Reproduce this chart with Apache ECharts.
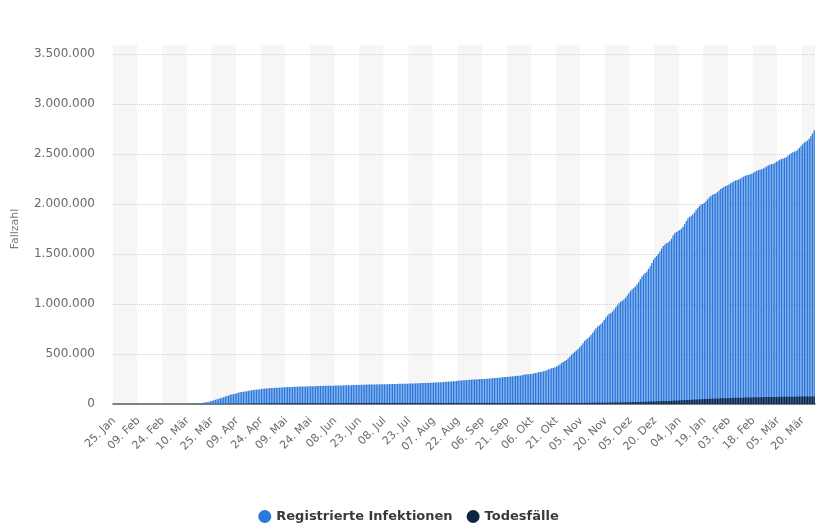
<!DOCTYPE html>
<html lang="de">
<head>
<meta charset="utf-8">
<title>Coronavirus (COVID-19) in Deutschland – Fallzahl</title>
<script src="https://cdn.jsdelivr.net/npm/echarts@6/dist/echarts.min.js"></script>
<style>
  html, body { margin: 0; padding: 0; background: #fff; }
  #chart { width: 817px; height: 527px; }
</style>
</head>
<body>
<div id="chart"></div>
<script>
// Cumulative registered infections per day, in thousands (25.01.2020 – 27.03.2021)
const inf_2020_01 = [0, 0, 0.001, 0.004, 0.004, 0.004, 0.005];
const inf_2020_02 = [0.008, 0.010, 0.012, 0.012, 0.012, 0.012, 0.013, 0.013, 0.014, 0.014,
  0.016, 0.016, 0.016, 0.016, 0.016, 0.016, 0.016, 0.016, 0.016, 0.016, 0.016, 0.016, 0.016, 0.016,
  0.018, 0.021, 0.026, 0.053, 0.066];
const inf_2020_03 = [0.117, 0.150, 0.188, 0.240, 0.349, 0.534, 0.684, 0.847, 1.112, 1.296,
  1.567, 2.369, 3.062, 3.795, 4.838, 6.012, 7.156, 8.198, 10.999, 13.957,
  16.662, 18.610, 22.672, 27.436, 31.554, 36.508, 42.288, 48.582, 52.547, 57.298, 61.913];
const inf_2020_04 = [67.4, 73.5, 79.7, 85.8, 91.7, 95.4, 99.2, 103.2, 108.2, 113.5,
  117.7, 120.5, 123.0, 125.1, 127.6, 130.5, 133.8, 137.4, 139.9, 141.7,
  143.5, 145.7, 148.0, 150.4, 152.4, 154.2, 155.2, 156.3, 157.6, 159.1];
const inf_2020_05 = [160.8, 161.7, 162.5, 163.2, 163.9, 164.8, 166.1, 167.3, 168.6, 169.6,
  169.8, 170.0, 170.5, 171.3, 172.2, 173.2, 174.1, 174.4, 174.7, 175.2,
  176.0, 176.8, 177.2, 177.8, 178.3, 178.6, 179.0, 179.4, 179.7, 180.5, 181.2];
const inf_2020_06 = [181.5, 181.8, 182.4, 182.8, 183.3, 183.6, 183.9, 184.1, 184.4, 184.9,
  185.4, 185.7, 186.3, 186.5, 186.8, 187.2, 187.8, 188.5, 189.1, 189.8,
  190.4, 190.9, 191.4, 192.1, 192.6, 193.2, 193.8, 194.0, 194.3, 194.7];
const inf_2020_07 = [195.2, 195.6, 196.1, 196.5, 196.6, 196.8, 197.2, 197.5, 197.9, 198.4,
  198.8, 199.0, 199.4, 199.7, 200.3, 200.8, 201.4, 201.9, 202.3, 202.6,
  203.0, 203.7, 204.2, 205.0, 205.6, 206.2, 206.2, 206.9, 207.7, 208.5, 209.7];
const inf_2020_08 = [210.4, 210.7, 211.0, 211.3, 212.0, 213.1, 214.2, 215.3, 216.3, 216.3,
  217.3, 218.5, 219.9, 221.4, 222.8, 224.0, 224.9, 225.4, 226.7, 228.6,
  230.0, 232.1, 233.9, 235.0, 236.4, 237.6, 239.5, 241.0, 242.4, 243.6, 244.8];
const inf_2020_09 = [245.0, 246.0, 247.4, 248.6, 249.6, 250.4, 251.0, 251.8, 253.5, 254.5,
  256.5, 258.3, 259.8, 260.4, 261.7, 263.0, 265.0, 267.0, 269.1, 270.1,
  270.9, 273.2, 274.0, 276.0, 278.1, 280.3, 282.0, 283.0, 284.3, 287.1];
const inf_2020_10 = [291.7, 294.4, 296.5, 298.2, 299.5, 302.0, 305.0, 309.0, 313.5, 318.0,
  321.5, 323.5, 327.5, 332.5, 338.5, 345.5, 352.5, 357.5, 361.0, 367.0,
  374.0, 385.0, 396.0, 410.0, 421.0, 429.0, 440.0, 455.0, 471.5, 490.0, 508.5];
const inf_2020_11 = [522, 534, 549, 566, 586, 607, 630, 645, 658, 673,
  692, 713, 736, 758, 775, 785, 799, 817, 839, 862,
  884, 900, 911, 924, 942, 964, 986, 1008, 1022, 1033];
const inf_2020_12 = [1046, 1063, 1085, 1107, 1131, 1148, 1160, 1174, 1194, 1217,
  1247, 1274, 1294, 1310, 1324, 1352, 1378, 1410, 1442, 1464,
  1480, 1500, 1524, 1555, 1579, 1594, 1608, 1615, 1631, 1653, 1685];
const inf_2021_01 = [1708, 1720, 1730, 1740, 1752, 1773, 1798, 1830, 1854, 1870,
  1883, 1895, 1914, 1939, 1961, 1979, 1993, 2000, 2011, 2027,
  2047, 2064, 2080, 2092, 2099, 2105, 2118, 2135, 2149, 2161, 2172];
const inf_2021_02 = [2178, 2184, 2195, 2207, 2218, 2228, 2236, 2240, 2246, 2254,
  2264, 2274, 2282, 2288, 2292, 2297, 2303, 2313, 2322, 2331,
  2339, 2343, 2347, 2355, 2366, 2376, 2386, 2393];
const inf_2021_03 = [2398, 2401, 2411, 2422, 2433, 2442, 2450, 2455, 2460, 2468,
  2482, 2495, 2507, 2518, 2524, 2530, 2544, 2562, 2580, 2598,
  2614, 2624, 2634, 2652, 2678, 2706, 2738];

// Cumulative deaths per day, in thousands
const dead_2020_01 = [0, 0, 0, 0, 0, 0, 0];
const dead_2020_02 = [0, 0, 0, 0, 0, 0, 0, 0, 0, 0, 0, 0, 0, 0, 0, 0, 0, 0, 0, 0,
  0, 0, 0, 0, 0, 0, 0, 0, 0];
const dead_2020_03 = [0, 0, 0, 0, 0, 0, 0, 0, 0.002, 0.002,
  0.003, 0.005, 0.005, 0.008, 0.012, 0.013, 0.013, 0.020, 0.024, 0.031,
  0.047, 0.055, 0.086, 0.114, 0.149, 0.198, 0.253, 0.325, 0.389, 0.455, 0.583];
const dead_2020_04 = [0.732, 0.872, 1.017, 1.158, 1.342, 1.434, 1.607, 1.861, 2.107, 2.373,
  2.544, 2.673, 2.799, 2.969, 3.254, 3.569, 3.868, 4.110, 4.294, 4.404,
  4.598, 4.879, 5.094, 5.321, 5.500, 5.640, 5.750, 5.913, 6.115, 6.288];
const dead_2020_05 = [6.481, 6.575, 6.649, 6.692, 6.831, 6.996, 7.119, 7.266, 7.369, 7.395,
  7.417, 7.533, 7.634, 7.723, 7.792, 7.881, 7.914, 7.935, 8.007, 8.090,
  8.147, 8.174, 8.216, 8.257, 8.283, 8.302, 8.349, 8.411, 8.450, 8.500, 8.511];
const dead_2020_06 = [8.52, 8.55, 8.58, 8.60, 8.63, 8.66, 8.67, 8.68, 8.71, 8.74,
  8.75, 8.77, 8.78, 8.79, 8.79, 8.80, 8.82, 8.84, 8.86, 8.87,
  8.88, 8.88, 8.89, 8.91, 8.91, 8.93, 8.94, 8.96, 8.96, 8.97];
const dead_2020_07 = [8.99, 9.00, 9.01, 9.02, 9.02, 9.02, 9.03, 9.05, 9.06, 9.06,
  9.07, 9.07, 9.07, 9.08, 9.08, 9.09, 9.09, 9.09, 9.09, 9.09,
  9.09, 9.10, 9.11, 9.11, 9.12, 9.12, 9.12, 9.12, 9.13, 9.13, 9.14];
const dead_2020_08 = [9.15, 9.15, 9.15, 9.16, 9.17, 9.17, 9.18, 9.18, 9.18, 9.19,
  9.20, 9.20, 9.21, 9.21, 9.23, 9.23, 9.24, 9.24, 9.24, 9.24,
  9.24, 9.25, 9.26, 9.26, 9.27, 9.27, 9.28, 9.28, 9.29, 9.29, 9.30];
const dead_2020_09 = [9.30, 9.31, 9.32, 9.32, 9.33, 9.34, 9.34, 9.34, 9.35, 9.36,
  9.37, 9.37, 9.38, 9.38, 9.38, 9.39, 9.39, 9.40, 9.41, 9.42,
  9.42, 9.43, 9.44, 9.46, 9.47, 9.48, 9.49, 9.49, 9.50, 9.51];
const dead_2020_10 = [9.53, 9.55, 9.56, 9.58, 9.59, 9.60, 9.62, 9.64, 9.65, 9.67,
  9.68, 9.69, 9.71, 9.74, 9.77, 9.79, 9.82, 9.84, 9.84, 9.88,
  9.92, 9.95, 10.00, 10.03, 10.06, 10.10, 10.14, 10.18, 10.27, 10.35, 10.45];
const dead_2020_11 = [10.48, 10.53, 10.66, 10.82, 10.93, 11.10, 11.23, 11.29, 11.35, 11.51,
  11.77, 11.98, 12.20, 12.38, 12.50, 12.55, 12.81, 13.12, 13.37, 13.63,
  13.88, 14.02, 14.11, 14.36, 14.77, 15.16, 15.59, 15.97, 16.12, 16.25];
const dead_2020_12 = [16.69, 17.12, 17.60, 18.09, 18.57, 18.77, 18.91, 19.34, 19.93, 20.52,
  21.00, 21.47, 21.79, 21.98, 22.48, 23.43, 24.13, 24.94, 25.64, 26.05,
  26.27, 26.96, 27.96, 28.77, 29.42, 29.78, 30.13, 30.13, 31.15, 32.11, 33.07];
const dead_2021_01 = [34.27, 34.82, 35.00, 35.48, 36.54, 37.61, 38.79, 39.88, 40.34, 40.69,
  41.58, 42.64, 43.88, 45.01, 45.97, 46.63, 46.94, 47.62, 48.77, 49.78,
  50.64, 51.52, 52.09, 52.39, 52.99, 53.97, 54.91, 55.75, 56.29, 56.59, 56.95];
const dead_2021_02 = [57.12, 57.98, 58.96, 59.74, 60.60, 61.29, 61.67, 61.68, 62.16, 62.97,
  63.64, 64.19, 64.76, 64.99, 65.08, 65.23, 65.60, 66.16, 66.68, 67.21,
  67.55, 67.71, 67.90, 68.31, 68.77, 69.13, 69.52, 69.63];
const dead_2021_03 = [69.89, 70.11, 70.46, 70.88, 71.24, 71.50, 71.80, 72.00, 72.19, 72.49,
  72.81, 73.06, 73.30, 73.37, 73.42, 73.60, 73.83, 74.13, 74.36, 74.46,
  74.66, 74.71, 74.96, 75.21, 75.44, 75.62, 75.79];

const monthNames = ['Jan', 'Feb', 'Mär', 'Apr', 'Mai', 'Jun', 'Jul', 'Aug', 'Sep', 'Okt', 'Nov', 'Dez'];
const yTicks = [0, 500000, 1000000, 1500000, 2000000, 2500000, 3000000, 3500000];
const seriesNames = ['Registrierte Infektionen', 'Todesfälle'];

const infectionsK = [].concat(inf_2020_01, inf_2020_02, inf_2020_03, inf_2020_04, inf_2020_05,
  inf_2020_06, inf_2020_07, inf_2020_08, inf_2020_09, inf_2020_10, inf_2020_11, inf_2020_12,
  inf_2021_01, inf_2021_02, inf_2021_03);
const deathsK = [].concat(dead_2020_01, dead_2020_02, dead_2020_03, dead_2020_04, dead_2020_05,
  dead_2020_06, dead_2020_07, dead_2020_08, dead_2020_09, dead_2020_10, dead_2020_11, dead_2020_12,
  dead_2021_01, dead_2021_02, dead_2021_03);

const infections = infectionsK.map(v => Math.round(v * 1000));
const deaths = deathsK.map(v => Math.round(v * 1000));

// One category per day, starting 25 January 2020
const days = [];
const start = Date.UTC(2020, 0, 25);
for (let i = 0; i < infections.length; i++) {
  const d = new Date(start + i * 86400000);
  const dd = String(d.getUTCDate()).padStart(2, '0');
  days.push(dd + '. ' + monthNames[d.getUTCMonth()]);
}

const fmt = v => String(v).replace(/\B(?=(\d{3})+(?!\d))/g, '.');
const FONT = 'DejaVu Sans';
const LEFT = 113, RIGHT = 2, BOTTOM = 123;

const chart = echarts.init(document.getElementById('chart'), null, { renderer: 'canvas' });
chart.setOption({
  animation: false,
  backgroundColor: '#ffffff',
  textStyle: { fontFamily: FONT },
  legend: {
    data: seriesNames,
    bottom: -1,
    left: 'center',
    icon: 'circle',
    itemWidth: 13,
    itemHeight: 13,
    itemGap: 14,
    textStyle: { fontFamily: FONT, fontSize: 13, fontWeight: 'bold', color: '#3a3a3a' }
  },
  grid: [
    // background stripes, slightly taller than the plot
    { left: LEFT, right: RIGHT, top: 45, bottom: BOTTOM },
    // data
    { left: LEFT, right: RIGHT, top: 54, bottom: BOTTOM }
  ],
  xAxis: [
    {
      type: 'category', gridIndex: 0, data: days, boundaryGap: true, z: -1,
      axisLine: { show: false }, axisTick: { show: false }, axisLabel: { show: false },
      splitLine: { show: false },
      splitArea: { show: true, interval: 14, areaStyle: { color: ['#f6f6f6', '#ffffff'] } }
    },
    {
      type: 'category', gridIndex: 1, data: days, boundaryGap: true, z: 1,
      axisLine: { show: true, lineStyle: { color: '#5e5e5e', width: 1.5 } },
      axisTick: { show: false },
      axisLabel: {
        interval: 14, rotate: 45, margin: 15,
        fontFamily: FONT, fontSize: 11, color: '#6a6a6a'
      },
      splitLine: { show: false },
      splitArea: { show: false }
    }
  ],
  yAxis: [
    { type: 'value', gridIndex: 0, show: false, min: 0, max: 1, splitLine: { show: false } },
    {
      type: 'value', gridIndex: 1, z: 1,
      min: yTicks[0], max: yTicks[yTicks.length - 1], interval: 500000,
      name: 'Fallzahl', nameLocation: 'middle', nameGap: 92, nameRotate: 90,
      nameTextStyle: { fontFamily: FONT, fontSize: 11, color: '#7a7a7a' },
      axisLine: { show: false }, axisTick: { show: false },
      axisLabel: { formatter: fmt, fontFamily: FONT, fontSize: 12, color: '#6a6a6a', margin: 18 },
      splitLine: { show: true, lineStyle: { color: '#cfcfcf', type: 'dotted', width: 1 } }
    }
  ],
  series: [
    {
      name: seriesNames[0], type: 'bar', xAxisIndex: 1, yAxisIndex: 1, z: 2,
      data: infections, barCategoryGap: '20%',
      itemStyle: { color: '#2a77dd' }
    },
    {
      name: seriesNames[1], type: 'bar', xAxisIndex: 1, yAxisIndex: 1, z: 3,
      data: deaths, barGap: '-100%', barCategoryGap: '20%',
      itemStyle: { color: '#0e2641' }
    }
  ]
});
</script>
</body>
</html>
